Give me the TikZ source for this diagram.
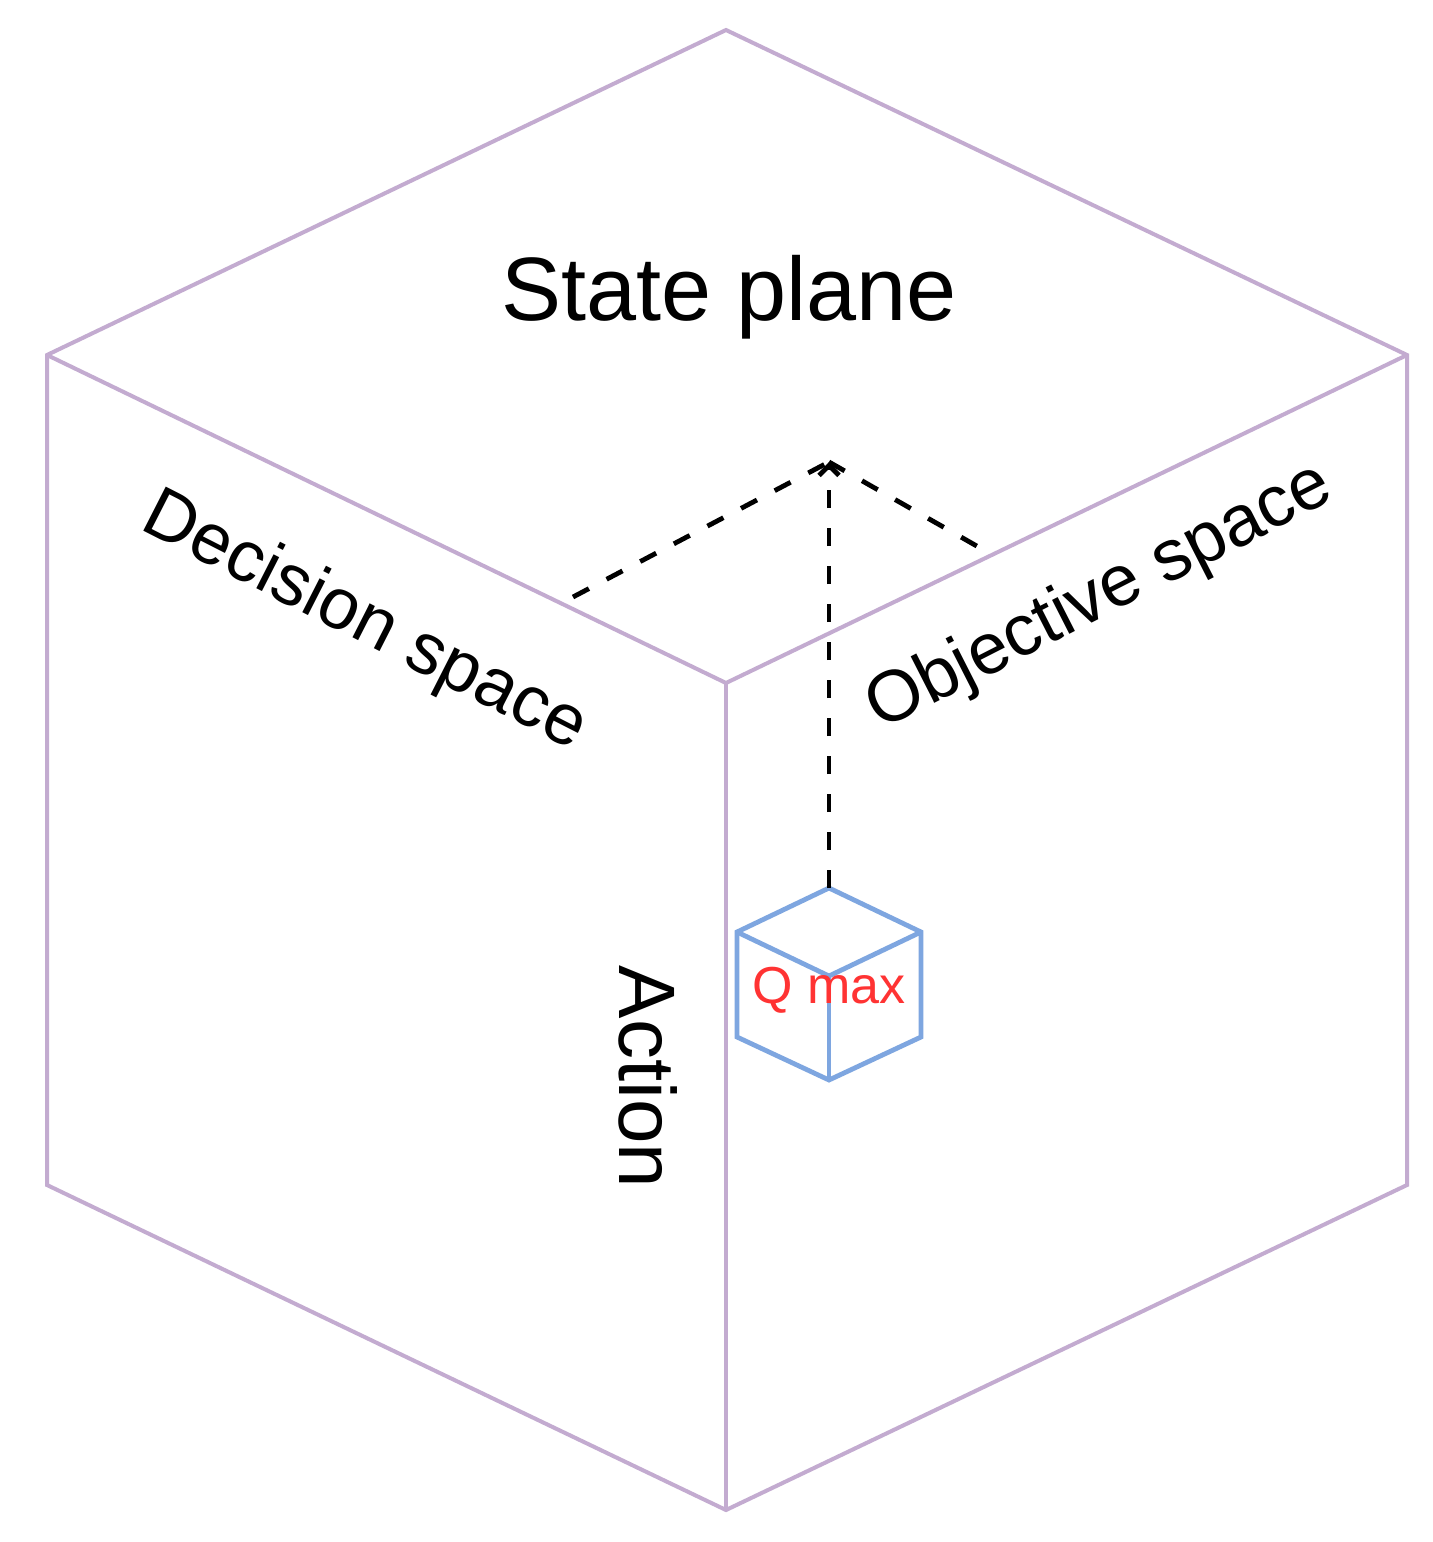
\documentclass[tikz,border=0pt]{standalone}
\usepackage{fontspec}
\setmainfont{Liberation Sans}
\usetikzlibrary{arrows.meta}
\definecolor{cubepurple}{HTML}{C3ABD0}
\definecolor{cubeblue}{HTML}{7EA6E0}
\definecolor{qred}{HTML}{FF3333}
\tikzset{
  bigedge/.style={draw=cubepurple, line width=2pt, line join=miter},
  smalledge/.style={draw=cubeblue, line width=2.4pt, line join=miter},
  dashlink/.style={draw=black, line width=2.4pt, dash pattern=on 9pt off 10pt},
  lbl/.style={inner sep=0pt, text=black},
}
\begin{document}
\begin{tikzpicture}[x=0.5pt,y=-0.5pt]
\path[use as bounding box, fill=white] (0,0) rectangle (1433,1542);
% big cube vertices
\coordinate (T)  at (726,30);
\coordinate (LT) at (47,355);
\coordinate (RT) at (1407,355);
\coordinate (C)  at (726,683);
\coordinate (LB) at (47,1185);
\coordinate (RB) at (1407,1185);
\coordinate (B)  at (726,1510);
\draw[bigedge] (T) -- (RT) -- (RB) -- (B) -- (LB) -- (LT) -- cycle;
\draw[bigedge] (LT) -- (C) -- (RT);
\draw[bigedge] (C) -- (B);
% small cube vertices
\coordinate (sT)  at (829,888);
\coordinate (sLT) at (737,932);
\coordinate (sRT) at (921,932);
\coordinate (sC)  at (829,976);
\coordinate (sLB) at (737,1037);
\coordinate (sRB) at (921,1037);
\coordinate (sB)  at (829,1080);
\draw[smalledge] (sT) -- (sRT) -- (sRB) -- (sB) -- (sLB) -- (sLT) -- cycle;
\draw[smalledge] (sLT) -- (sC) -- (sRT);
\draw[smalledge] (sC) -- (sB);
% dashed links
\coordinate (tip) at (829,462);
\coordinate (dL) at (573,597);
\coordinate (dR) at (982,549);
\draw[dashlink, -{Straight Barb[length=5pt,width=10pt,line width=2.4pt]}] (sT) -- (tip);
\draw[dashlink] (dL) -- (tip);
\draw[dashlink] (tip) -- (dR);
% labels
\node[lbl, font=\fontsize{45}{50}\selectfont] (state) at (729,297) {State plane};
\node[lbl, font=\fontsize{36}{40}\selectfont, rotate=-27] (dec) at (364,623) {Decision space};
\node[lbl, font=\fontsize{36}{40}\selectfont, rotate=27] (obj) at (1100,598) {Objective space};
\node[lbl, font=\fontsize{40}{44}\selectfont, rotate=-90] (act) at (648,1077) {Action};
\node[lbl, font=\fontsize{26}{30}\selectfont, text=qred] (q) at (829,990) {Q max};
\end{tikzpicture}
\end{document}
